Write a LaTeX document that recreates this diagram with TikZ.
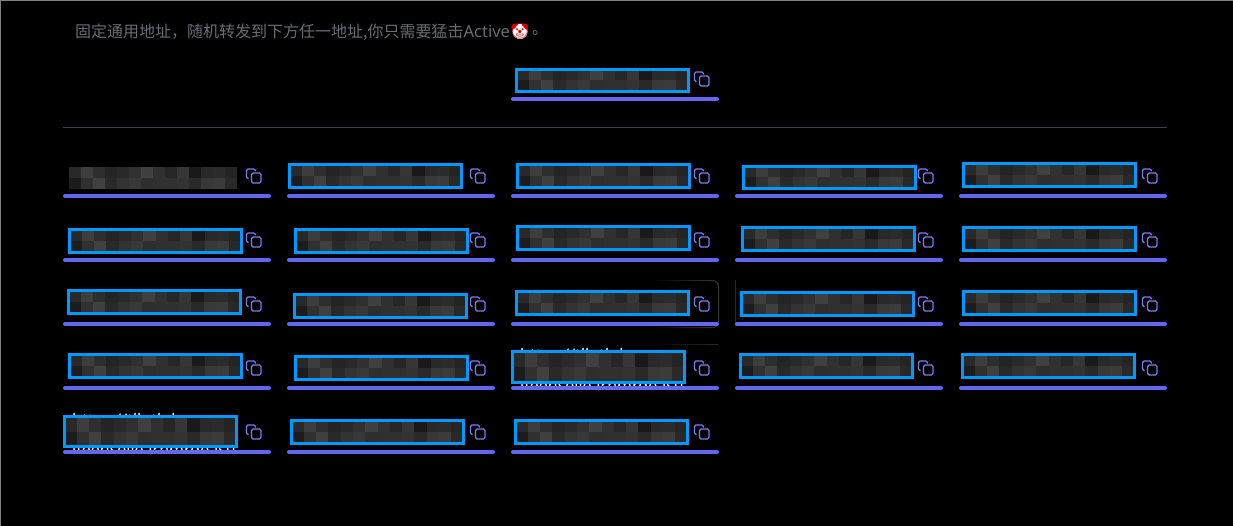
\documentclass[tikz,border=0pt]{standalone}
\usepackage{fontspec}
\setmainfont{Noto Sans CJK SC}
\newfontfamily\emojifont{Noto Emoji}
\newfontfamily\latinfont{Noto Sans}
\usetikzlibrary{fadings}
\definecolor{barc}{HTML}{6366F1}
\definecolor{iconc}{HTML}{7A7EF0}
\definecolor{boxc}{HTML}{0099FF}
\definecolor{capt}{HTML}{666C78}
\definecolor{rule}{HTML}{374151}
\definecolor{edge}{HTML}{808080}
\definecolor{ghost}{HTML}{383838}
\definecolor{ghostdim}{HTML}{262626}
\tikzset{
  barline/.style={draw=barc,line width=4pt,line cap=round},
  iconline/.style={draw=iconc,line width=1.25pt,rounded corners=1.6pt},
  boxline/.style={draw=boxc,line width=3pt},
  capttext/.style={text=capt,font=\fontsize{16}{16}\selectfont,inner sep=0pt,anchor=west},
  hiddentext/.style={text=white,font=\latinfont\fontsize{16}{16}\selectfont,inner sep=0pt,anchor=west},
  ghostline/.style={draw=ghost,line width=1pt,rounded corners=6pt},
  ghostdimline/.style={draw=ghostdim,line width=1pt,rounded corners=6pt},
}
% pixelated block: left, top, right, bottom
\newcommand{\mosblock}[4]{%
  \fill[white!18!black] (#1,#2) rectangle (#3,#4);
  \foreach \i/\a/\b in {0/16/11,1/24/19,2/18/25,3/14/16,4/16/20,5/19/22,6/25/18,7/19/19,8/15/19,9/21/20,10/10/16,11/16/22,12/17/23,13/14/16}{
    \pgfmathsetmacro{\xa}{#1+\i*(#3-#1)/14}
    \pgfmathsetmacro{\xb}{#1+(\i+1)*(#3-#1)/14}
    \pgfmathsetmacro{\ym}{(#2+#4)/2}
    \fill[white!\a!black] (\xa,#2) rectangle (\xb,\ym);
    \fill[white!\b!black] (\xa,\ym) rectangle (\xb,#4);
  }}
% framed block
\newcommand{\framedblock}[4]{%
  \pgfmathsetmacro{\fa}{#1+1.5}\pgfmathsetmacro{\fb}{#2+1.5}
  \pgfmathsetmacro{\fc}{#3-1.5}\pgfmathsetmacro{\fd}{#4-1.5}
  \fill[black] (#1,#2) rectangle (#3,#4);
  \mosblock{\fa}{\fb}{\fc}{\fd}
  \draw[boxline] (\fa,\fb) rectangle (\fc,\fd);}
% copy icon at centre
\newcommand{\copyicon}[2]{%
  \begin{scope}[shift={(#1,#2)}]
    \draw[iconline] (-2.5,-3) rectangle (7,7);
    \draw[iconline] (-5.5,2.5) -- (-7.5,2.5) -- (-7.5,-7) -- (1.5,-7) -- (1.5,-4.5);
  \end{scope}}
% underline of a card
\newcommand{\cardbar}[2]{%
  \pgfmathsetmacro{\ba}{#1+2}\pgfmathsetmacro{\bb}{#1+206}
  \draw[barline] (\ba,#2) -- (\bb,#2);}
\begin{document}
\begin{tikzpicture}[x=1pt,y=-1pt]
\useasboundingbox (0,0) rectangle (1233,526);
\fill[black] (0,0) rectangle (1233,526);
\draw[edge,line width=1pt] (0.5,526) -- (0.5,0.5) -- (1233,0.5);

% caption
\node[capttext] (caption) at (75,32) {固定通用地址，随机转发到下方任一地址,你只需要猛击{\latinfont\fontsize{16.5}{16}\selectfont Active}};
\fill[white] (520,31.5) circle (7.6);
\node[inner sep=0pt,text=red!85!black,font=\emojifont\fontsize{15}{15}\selectfont] (clown) at (520,31.5) {🤡};
\node[capttext] (stop) at (532,33) {。};

% divider
\draw[rule,line width=1pt] (63,127.5) -- (1167,127.5);

% faint card frames
\draw[ghostline,path fading=west] (650,280.5) -- (718.5,280.5) -- (718.5,327.5) -- (650,327.5);
\foreach \k/\p in {0/3,1/5,2/7,3/9,4/11,5/13,6/15}{
  \pgfmathsetmacro{\sa}{655+\k*9}
  \pgfmathsetmacro{\sb}{655+(\k+1)*9}
  \draw[white!\p!black,line width=1pt] (\sa,344.5) -- (\sb,344.5);
}
\draw[ghostdimline] (735.5,327) -- (735.5,280.5);

% text behind the two wider blocks
\begin{scope}
  \clip (505,345) rectangle (725,387);
  \node[hiddentext] (ta) at (520,356) {https://tlh.th.k};
  \node[hiddentext] (tb) at (520,385.5) {lfeensellearnmrdeasu.};
\end{scope}
\begin{scope}
  \clip (60,408) rectangle (245,451);
  \node[hiddentext] (tc) at (72,421) {https://tlh.th.k};
  \node[hiddentext] (td) at (72,449.5) {lfeensellearnmrdeasu.};
\end{scope}

% top card
\framedblock{515}{68}{690}{93}
\copyicon{702}{79}
\cardbar{511}{99}

% row 1
\mosblock{69}{167}{237}{189}
\framedblock{288}{163}{463}{189}
\framedblock{516}{163}{691}{189}
\framedblock{742}{165}{917}{190}
\framedblock{962}{162}{1137}{188}
% row 2
\framedblock{68}{228}{243}{254}
\framedblock{294}{228}{469}{254}
\framedblock{516}{225}{691}{251}
\framedblock{741}{226}{916}{252}
\framedblock{962}{226}{1137}{252}
% row 3
\framedblock{67}{289}{242}{315}
\framedblock{293}{293}{468}{319}
\framedblock{515}{290}{690}{316}
\framedblock{740}{291}{915}{317}
\framedblock{962}{290}{1137}{316}
% row 4
\framedblock{68}{353}{243}{379}
\framedblock{294}{355}{469}{381}
\framedblock{511}{350}{686}{384}
\framedblock{739}{353}{914}{379}
\framedblock{961}{353}{1136}{379}
% row 5
\framedblock{63}{415}{238}{448}
\framedblock{290}{419}{465}{445}
\framedblock{514}{419}{689}{445}

% icons and bars
\foreach \yi/\yb in {176/196,240/260,304/324,368/388}{
  \foreach \xi/\xb in {254/63,478/287,702/511,926/735,1150/959}{
    \copyicon{\xi}{\yi}
    \cardbar{\xb}{\yb}
  }
}
\foreach \xi/\xb in {254/63,478/287,702/511}{
  \copyicon{\xi}{432}
  \cardbar{\xb}{452}
}
\end{tikzpicture}
\end{document}
